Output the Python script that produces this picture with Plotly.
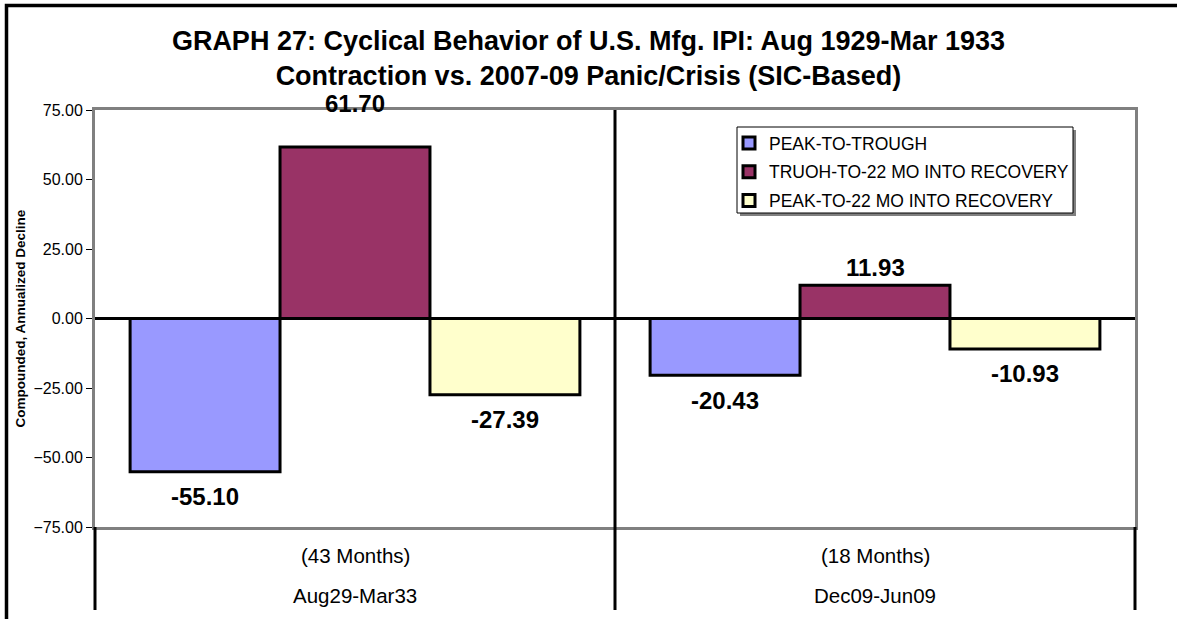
import plotly.graph_objects as go

# ---- data ----
periods = ["Aug29-Mar33", "Dec09-Jun09"]
durations = ["(43 Months)", "(18 Months)"]
series_names = ["PEAK-TO-TROUGH", "TRUOH-TO-22 MO INTO RECOVERY", "PEAK-TO-22 MO INTO RECOVERY"]
peak_to_trough = [-55.10, -20.43]
trough_to_22mo = [61.70, 11.93]
peak_to_22mo = [-27.39, -10.93]
y_ticks = [-75, -50, -25, 0, 25, 50, 75]

# ---- styling ----
W, H = 1177, 619
ML, MR, MT, MB = 95, 42, 110, 92
PW, PH = W - ML - MR, H - MT - MB
FONT = "Liberation Sans, Arial, sans-serif"
colors = ["#9999FF", "#993366", "#FFFFCC"]
series_values = [peak_to_trough, trough_to_22mo, peak_to_22mo]
BARGAP = 0.135


def px_x(px):
    return (px - ML) / PW


def px_y(py):
    return (H - MB - py) / PH


fig = go.Figure()
for i, (name, vals) in enumerate(zip(series_names, series_values)):
    fig.add_trace(go.Bar(
        x=periods, y=vals, name=name, legendgroup=str(i),
        marker=dict(color=colors[i], line=dict(color="black", width=3)),
    ))

# data labels
annotations = []
label_offset_override = {(1, 0): 43}
bar_w_px = (PW / 2) * (1 - BARGAP) / 3
for i, vals in enumerate(series_values):
    for j, v in enumerate(vals):
        shift = 18 if v >= 0 else -25
        if (i, j) in label_offset_override:
            shift = label_offset_override[(i, j)]
        annotations.append(dict(
            x=j, y=v, xref="x", yref="y", text=f"<b>{v:.2f}</b>", showarrow=False,
            xshift=(i - 1) * bar_w_px, yshift=shift, yanchor="middle",
            font=dict(family=FONT, size=24, color="black"), xanchor="center",
        ))

# category labels
for j, (d, p) in enumerate(zip(durations, periods)):
    annotations.append(dict(x=j, y=0, xref="x", yref="paper", text=d, showarrow=False,
                            yshift=-28, yanchor="middle",
                            font=dict(family=FONT, size=20.5, color="black")))
    annotations.append(dict(x=j, y=0, xref="x", yref="paper", text=p, showarrow=False,
                            yshift=-68, yanchor="middle",
                            font=dict(family=FONT, size=20.5, color="black")))

# y-axis title
annotations.append(dict(x=px_x(20), y=0.5, xref="paper", yref="paper",
                        text="<b>Compounded, Annualized Decline</b>", showarrow=False,
                        textangle=-90, xanchor="center", yanchor="middle",
                        font=dict(family=FONT, size=13.5, color="black")))

shapes = []
# legend shadow and box
shapes.append(dict(type="rect", xref="paper", yref="paper",
                   x0=px_x(740), x1=px_x(1076), y0=px_y(216), y1=px_y(130),
                   fillcolor="#808080", line=dict(width=0), layer="above"))
shapes.append(dict(type="rect", xref="paper", yref="paper",
                   x0=px_x(737), x1=px_x(1073), y0=px_y(213), y1=px_y(127),
                   fillcolor="white", line=dict(color="black", width=1), layer="above"))
# category dividers (middle through plot, edges below plot)
shapes.append(dict(type="line", xref="paper", yref="paper", x0=0.5, x1=0.5,
                   y0=px_y(610), y1=1, line=dict(color="black", width=3), layer="above"))
for xe in (0, 1):
    shapes.append(dict(type="line", xref="paper", yref="paper", x0=xe, x1=xe,
                       y0=px_y(610), y1=0, line=dict(color="black", width=3), layer="above"))
# outer chart border (left and top)
shapes.append(dict(type="rect", xref="paper", yref="paper", x0=px_x(6.5), x1=px_x(1185),
                   y0=px_y(640), y1=px_y(5.5), fillcolor="rgba(0,0,0,0)",
                   line=dict(color="black", width=3.5), layer="above"))

fig.update_layout(
    width=W, height=H,
    margin=dict(l=ML, r=MR, t=MT, b=MB, autoexpand=False),
    paper_bgcolor="white", plot_bgcolor="white",
    barmode="group", bargap=BARGAP, bargroupgap=0,
    title=dict(
        text="<b>GRAPH 27: Cyclical Behavior of U.S. Mfg. IPI: Aug 1929-Mar 1933<br>"
             "Contraction vs. 2007-09 Panic/Crisis (SIC-Based)</b>",
        x=0.5, xanchor="center", y=1 - 49.5 / H, yanchor="middle", yref="container",
        font=dict(family=FONT, size=27, color="black"),
    ),
    showlegend=True,
    legend=dict(
        x=px_x(729), y=px_y(125), xanchor="left", yanchor="top",
        bgcolor="rgba(0,0,0,0)", borderwidth=0,
        font=dict(family=FONT, size=17.5, color="black"),
        traceorder="grouped", tracegroupgap=3,
    ),
    xaxis=dict(
        type="category", range=[-0.5, 1.5], showticklabels=False, ticks="",
        showline=True, mirror=True, linecolor="#808080", linewidth=3,
        showgrid=False, zeroline=False, fixedrange=True,
    ),
    yaxis=dict(
        range=[-75, 75], tickvals=y_ticks, tickformat=".2f",
        ticks="outside", ticklen=6, tickcolor="black", tickwidth=1,
        tickfont=dict(family=FONT, size=16, color="black"),
        showline=True, mirror=True, linecolor="#808080", linewidth=3,
        showgrid=False, zeroline=True, zerolinecolor="black", zerolinewidth=3,
        fixedrange=True,
    ),
    annotations=annotations,
    shapes=shapes,
)

fig.write_html("out.html", config={"displayModeBar": False},
               post_script="document.body.style.margin='0px';")
